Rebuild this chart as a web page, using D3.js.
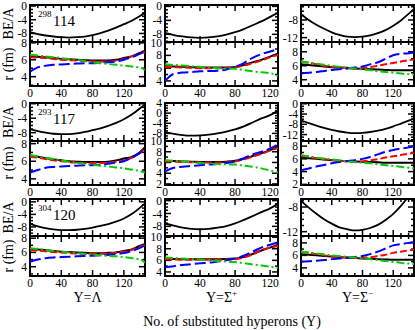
<!DOCTYPE html>
<html>
<head>
<meta charset="utf-8">
<script src="https://cdn.jsdelivr.net/npm/d3@7"></script>
<style>
  body { margin: 0; background: #fff; }
  text { font-family: "Liberation Serif", "Times New Roman", serif; fill: #000; }
</style>
</head>
<body>
<svg id="chart" width="415" height="330"></svg>
<script>
// x grids (number of substituted hyperons)
const xsLam = [0,10,20,30,40,50,60,70,80,90,100,110,120,130,140,147];
const xsSp  = [0,10,20,30,40,50,60,70,80,90,100,110,120,129];
const xsSm  = xsLam;

// 298-114
const be114Lam = [-7.6,-8.2,-8.6,-8.9,-9.1,-9.2,-9.1,-8.9,-8.5,-7.9,-7.2,-6.3,-5.3,-4.3,-3.0,-2.0];
const r114Lam_k = [6.4,6.35,6.3,6.2,6.1,6.05,6.0,5.95,5.9,5.9,5.9,6.0,6.2,6.4,6.8,7.0];
const r114Lam_r = [6.3,6.25,6.2,6.1,6.0,5.95,5.9,5.85,5.8,5.8,5.8,5.9,6.1,6.4,6.7,6.9];
const r114Lam_b = [4.6,5.1,5.3,5.4,5.45,5.5,5.55,5.6,5.6,5.65,5.7,5.8,6.0,6.3,6.7,7.1];
const r114Lam_g = [6.6,6.5,6.4,6.3,6.2,6.1,6.0,5.85,5.7,5.6,5.5,5.4,5.3,5.2,5.1,4.8];

const be114Sp = [-7.6,-8.2,-8.6,-8.9,-9.0,-8.9,-8.6,-8.1,-7.4,-6.5,-5.4,-4.3,-3.0,-1.8];
const r114Sp_k = [6.3,6.25,6.2,6.15,6.1,6.1,6.1,6.1,6.2,6.5,6.9,7.3,7.8,8.3];
const r114Sp_r = [6.2,6.15,6.1,6.05,6.0,6.0,6.0,6.05,6.15,6.4,6.8,7.2,7.7,8.1];
const r114Sp_b = [4.0,5.1,5.3,5.4,5.5,5.55,5.6,5.8,6.2,6.8,7.6,8.2,8.6,9.0];
const r114Sp_g = [6.6,6.5,6.4,6.3,6.2,6.1,6.0,5.95,5.9,5.7,5.5,5.35,5.2,4.8];

const be114Sm = [-6.7,-8.0,-9.1,-10.0,-10.8,-11.4,-11.8,-11.9,-11.8,-11.5,-11.0,-10.3,-9.3,-8.1,-6.6,-5.5];
const r114Sm_k = [6.2,6.1,6.0,5.9,5.8,5.75,5.7,5.6,5.55,5.5,5.45,5.4,5.35,5.35,5.35,5.4];
const r114Sm_r = [6.6,6.4,6.2,6.0,5.85,5.7,5.65,5.6,5.65,5.8,6.0,6.2,6.4,6.6,6.8,6.9];
const r114Sm_b = [4.9,5.0,5.1,5.25,5.4,5.5,5.6,5.75,5.9,6.2,6.5,7.0,7.5,7.7,7.8,7.9];
const r114Sm_g = [6.6,6.45,6.3,6.15,6.0,5.85,5.7,5.6,5.5,5.35,5.2,5.1,5.0,4.9,4.8,4.7];

// 293-117
const be117Lam = [-7.0,-7.6,-8.0,-8.3,-8.4,-8.4,-8.2,-7.8,-7.3,-6.8,-6.1,-5.3,-4.3,-3.0,-1.4,-0.1];
const r117Lam_k = [6.7,6.5,6.35,6.2,6.1,6.0,5.95,5.9,5.9,5.9,5.95,6.1,6.3,6.5,7.0,7.6];
const r117Lam_r = [6.5,6.4,6.25,6.1,6.0,5.9,5.85,5.8,5.8,5.8,5.85,5.95,6.1,6.4,6.9,7.4];
const r117Lam_b = [4.7,5.0,5.25,5.35,5.4,5.45,5.5,5.55,5.55,5.6,5.7,5.85,6.0,6.4,6.9,7.5];
const r117Lam_g = [6.7,6.55,6.4,6.25,6.1,5.95,5.8,5.7,5.6,5.5,5.4,5.3,5.2,5.05,4.9,4.7];

const be117Sp = [-7.5,-8.2,-8.7,-8.9,-8.8,-8.5,-8.0,-7.3,-6.4,-5.2,-3.7,-2.1,-0.8,1.0];
const r117Sp_k = [6.3,6.25,6.2,6.15,6.1,6.1,6.1,6.15,6.3,6.7,7.2,7.7,8.3,8.9];
const r117Sp_r = [6.2,6.15,6.1,6.05,6.0,6.0,6.0,6.05,6.2,6.6,7.1,7.6,8.2,8.7];
const r117Sp_b = [4.3,5.0,5.2,5.35,5.5,5.6,5.7,5.9,6.2,6.8,7.5,8.0,8.6,9.4];
const r117Sp_g = [6.4,6.3,6.2,6.05,5.9,5.8,5.7,5.65,5.6,5.4,5.2,4.9,4.5,4.1];

const be117Sm = [-6.5,-7.5,-8.5,-9.4,-10.2,-10.8,-11.2,-11.4,-11.3,-11.0,-10.5,-9.8,-8.8,-7.7,-6.6,-5.8];
const r117Sm_k = [6.2,6.1,6.0,5.9,5.8,5.7,5.65,5.6,5.55,5.5,5.45,5.4,5.4,5.4,5.4,5.4];
const r117Sm_r = [6.5,6.3,6.1,5.95,5.8,5.7,5.6,5.55,5.6,5.75,5.95,6.2,6.4,6.6,6.8,6.9];
const r117Sm_b = [4.2,4.5,4.8,5.05,5.3,5.5,5.65,5.8,6.0,6.3,6.7,7.1,7.4,7.6,7.8,8.0];
const r117Sm_g = [6.6,6.4,6.2,6.05,5.9,5.75,5.6,5.5,5.4,5.3,5.15,5.0,4.9,4.75,4.6,4.5];

// 304-120
const be120Lam = [-7.0,-7.8,-8.4,-8.8,-9.0,-9.0,-8.9,-8.6,-8.2,-7.7,-7.1,-6.3,-5.3,-3.9,-2.0,-0.5];
const r120Lam_k = [6.5,6.4,6.3,6.2,6.1,6.05,6.0,5.95,5.9,5.9,5.95,6.0,6.2,6.4,6.9,7.2];
const r120Lam_r = [6.3,6.25,6.15,6.05,6.0,5.9,5.85,5.8,5.8,5.8,5.85,5.95,6.1,6.35,6.8,7.0];
const r120Lam_b = [4.7,5.0,5.2,5.3,5.35,5.4,5.45,5.5,5.55,5.6,5.65,5.75,5.9,6.2,6.6,7.0];
const r120Lam_g = [6.6,6.5,6.35,6.2,6.1,6.0,5.9,5.8,5.7,5.6,5.5,5.45,5.35,5.2,5.05,4.6];

const be120Sp = [-7.1,-7.8,-8.4,-8.8,-8.9,-8.8,-8.4,-7.9,-7.1,-6.0,-4.8,-3.6,-2.4,-1.0];
const r120Sp_k = [6.3,6.25,6.2,6.2,6.2,6.2,6.2,6.25,6.3,6.6,7.1,7.7,8.2,8.7];
const r120Sp_r = [6.2,6.15,6.1,6.1,6.1,6.1,6.1,6.15,6.2,6.5,7.0,7.8,8.2,8.5];
const r120Sp_b = [4.8,5.0,5.2,5.35,5.5,5.6,5.8,6.0,6.3,6.8,7.5,8.2,8.7,9.1];
const r120Sp_g = [6.5,6.4,6.3,6.2,6.1,6.0,5.9,5.8,5.7,5.5,5.3,5.1,4.9,4.7];

const be120Sm = [-7.0,-8.1,-9.1,-10.0,-10.7,-11.3,-11.6,-11.8,-11.7,-11.4,-10.9,-10.1,-9.1,-7.8,-6.3,-5.2];
const r120Sm_k = [6.2,6.1,6.0,5.9,5.8,5.7,5.65,5.6,5.5,5.45,5.4,5.35,5.3,5.3,5.3,5.3];
const r120Sm_r = [6.6,6.4,6.2,6.0,5.85,5.7,5.65,5.6,5.6,5.7,5.9,6.1,6.4,6.6,6.8,6.9];
const r120Sm_b = [5.0,5.05,5.15,5.25,5.4,5.5,5.6,5.75,5.9,6.2,6.6,7.1,7.6,7.8,8.0,8.1];
const r120Sm_g = [6.6,6.45,6.3,6.15,6.0,5.9,5.75,5.65,5.55,5.4,5.25,5.1,4.95,4.8,4.7,4.6];

const nuclei = [{ A: "298", Z: "114" }, { A: "293", Z: "117" }, { A: "304", Z: "120" }];
const hyperons = [{ name: "Y=Λ", sup: "" }, { name: "Y=Σ", sup: "+" }, { name: "Y=Σ", sup: "−" }];
const xLabel = "No. of substituted hyperons (Y)";

// layout
const colX = [[30, 145], [165, 278], [301, 414]];
const rowY = [[5, 42, 86], [103, 141, 185], [199, 236, 276]];
const xMax = [147, 129, 147];
const xGrid = [xsLam, xsSp, xsSm];

const beDom = [
  [[-10.5, 0.3], [-10.2, 0.4], [-13, -4.6]],
  [[-10.3, 0.2], [-11, 4], [-14.5, 0.3]],
  [[-10.9, 0.9], [-11, 0.5], [-12.7, -6.7]]
];
const rDom = [
  [[2.9, 8.1], [3.2, 10.1], [3.1, 9.4]],
  [[3.3, 8.3], [1.8, 10], [1.9, 8.8]],
  [[2.7, 8.3], [3.3, 10.2], [2.7, 9.1]]
];

const beSets = [[be114Lam, be114Sp, be114Sm], [be117Lam, be117Sp, be117Sm], [be120Lam, be120Sp, be120Sm]];
const rSets = [
  [[r114Lam_k, r114Lam_r, r114Lam_b, r114Lam_g], [r114Sp_k, r114Sp_r, r114Sp_b, r114Sp_g], [r114Sm_k, r114Sm_r, r114Sm_b, r114Sm_g]],
  [[r117Lam_k, r117Lam_r, r117Lam_b, r117Lam_g], [r117Sp_k, r117Sp_r, r117Sp_b, r117Sp_g], [r117Sm_k, r117Sm_r, r117Sm_b, r117Sm_g]],
  [[r120Lam_k, r120Lam_r, r120Lam_b, r120Lam_g], [r120Sp_k, r120Sp_r, r120Sp_b, r120Sp_g], [r120Sm_k, r120Sm_r, r120Sm_b, r120Sm_g]]
];
const styles = [
  { color: "#000", dash: null },
  { color: "#ff0000", dash: "7,3" },
  { color: "#0000ff", dash: "11,4" },
  { color: "#00cc00", dash: "8,3,2,3" }
];

const svg = d3.select("#chart");
const defs = svg.append("defs");
let clipId = 0;

function range(a, b, step) {
  const out = [];
  const start = Math.ceil(a / step - 1e-9) * step;
  for (let v = start; v <= b + 1e-9; v += step) out.push(+v.toFixed(6));
  return out;
}

function panel(x0, x1, y0, y1, xScale, yDom, labStep, minStep, showX) {
  const y = d3.scaleLinear().domain(yDom).range([y1, y0]);
  const g = svg.append("g");
  // x ticks top & bottom
  range(0, xScale.domain()[1], 10).forEach(v => {
    const len = v % 40 === 0 ? 6 : 3;
    const px = xScale(v);
    g.append("line").attr("x1", px).attr("x2", px).attr("y1", y1).attr("y2", y1 - len)
      .attr("stroke", "#000").attr("stroke-width", 1.5);
    g.append("line").attr("x1", px).attr("x2", px).attr("y1", y0).attr("y2", y0 + len)
      .attr("stroke", "#000").attr("stroke-width", 1.5);
  });
  // y ticks left & right
  range(yDom[0], yDom[1], minStep).forEach(v => {
    const major = Math.abs(v % labStep) < 1e-6;
    const len = major ? 6 : 3;
    const py = y(v);
    g.append("line").attr("x1", x0).attr("x2", x0 + len).attr("y1", py).attr("y2", py)
      .attr("stroke", "#000").attr("stroke-width", 1.5);
    g.append("line").attr("x1", x1).attr("x2", x1 - len).attr("y1", py).attr("y2", py)
      .attr("stroke", "#000").attr("stroke-width", 1.5);
    if (major) {
      g.append("text").attr("x", x0 - 3).attr("y", py).attr("dy", "0.35em")
        .attr("text-anchor", "end").attr("font-size", 11.5).text(v);
    }
  });
  if (showX) {
    range(0, xScale.domain()[1], 40).forEach(v => {
      g.append("text").attr("x", xScale(v)).attr("y", y1 + 11)
        .attr("text-anchor", "middle").attr("font-size", 11.5).text(v);
    });
  }
  g.append("rect").attr("x", x0).attr("y", y0).attr("width", x1 - x0).attr("height", y1 - y0)
    .attr("fill", "none").attr("stroke", "#000").attr("stroke-width", 2);
  const id = "clip" + (clipId++);
  defs.append("clipPath").attr("id", id).append("rect")
    .attr("x", x0).attr("y", y0).attr("width", x1 - x0).attr("height", y1 - y0);
  return { y, clip: "url(#" + id + ")" };
}

for (let r = 0; r < 3; r++) {
  const [yt, ym, yb] = rowY[r];
  for (let c = 0; c < 3; c++) {
    const [x0, x1] = colX[c];
    const x = d3.scaleLinear().domain([0, xMax[c]]).range([x0, x1]);
    const xs = xGrid[c];

    // BE/A panel
    const top = panel(x0, x1, yt, ym, x, beDom[r][c], 4, 1, false);
    const lineTop = d3.line().x((d, i) => x(xs[i])).y(d => top.y(d)).curve(d3.curveMonotoneX);
    svg.append("path").attr("d", lineTop(beSets[r][c])).attr("clip-path", top.clip)
      .attr("fill", "none").attr("stroke", "#000").attr("stroke-width", 1.8);

    // r (fm) panel
    const bot = panel(x0, x1, ym, yb, x, rDom[r][c], 2, 1, true);
    const lineBot = d3.line().x((d, i) => x(xs[i])).y(d => bot.y(d)).curve(d3.curveMonotoneX);
    rSets[r][c].forEach((vals, k) => {
      svg.append("path").attr("d", lineBot(vals)).attr("clip-path", bot.clip)
        .attr("fill", "none").attr("stroke", styles[k].color).attr("stroke-width", 2)
        .attr("stroke-dasharray", styles[k].dash);
    });

    if (c === 0) {
      svg.append("text").attr("x", 38).attr("y", yt + 12).attr("font-size", 9).text(nuclei[r].A);
      svg.append("text").attr("x", 53).attr("y", yt + 21).attr("font-size", 15).text(nuclei[r].Z);
      svg.append("text").attr("transform", `translate(13,${(yt + ym) / 2}) rotate(-90)`)
        .attr("text-anchor", "middle").attr("font-size", 14).text("BE/A");
      svg.append("text").attr("transform", `translate(13,${(ym + yb) / 2}) rotate(-90)`)
        .attr("text-anchor", "middle").attr("font-size", 14).text("r (fm)");
    }
  }
}

// column labels
hyperons.forEach((h, c) => {
  const cx = (colX[c][0] + colX[c][1]) / 2;
  const t = svg.append("text").attr("x", cx).attr("y", 302).attr("text-anchor", "middle").attr("font-size", 14);
  t.append("tspan").text(h.name);
  if (h.sup) t.append("tspan").attr("dy", -6).attr("font-size", 9).text(h.sup);
});

svg.append("text").attr("x", 232).attr("y", 326).attr("text-anchor", "middle")
  .attr("font-size", 14).text(xLabel);
</script>
</body>
</html>
